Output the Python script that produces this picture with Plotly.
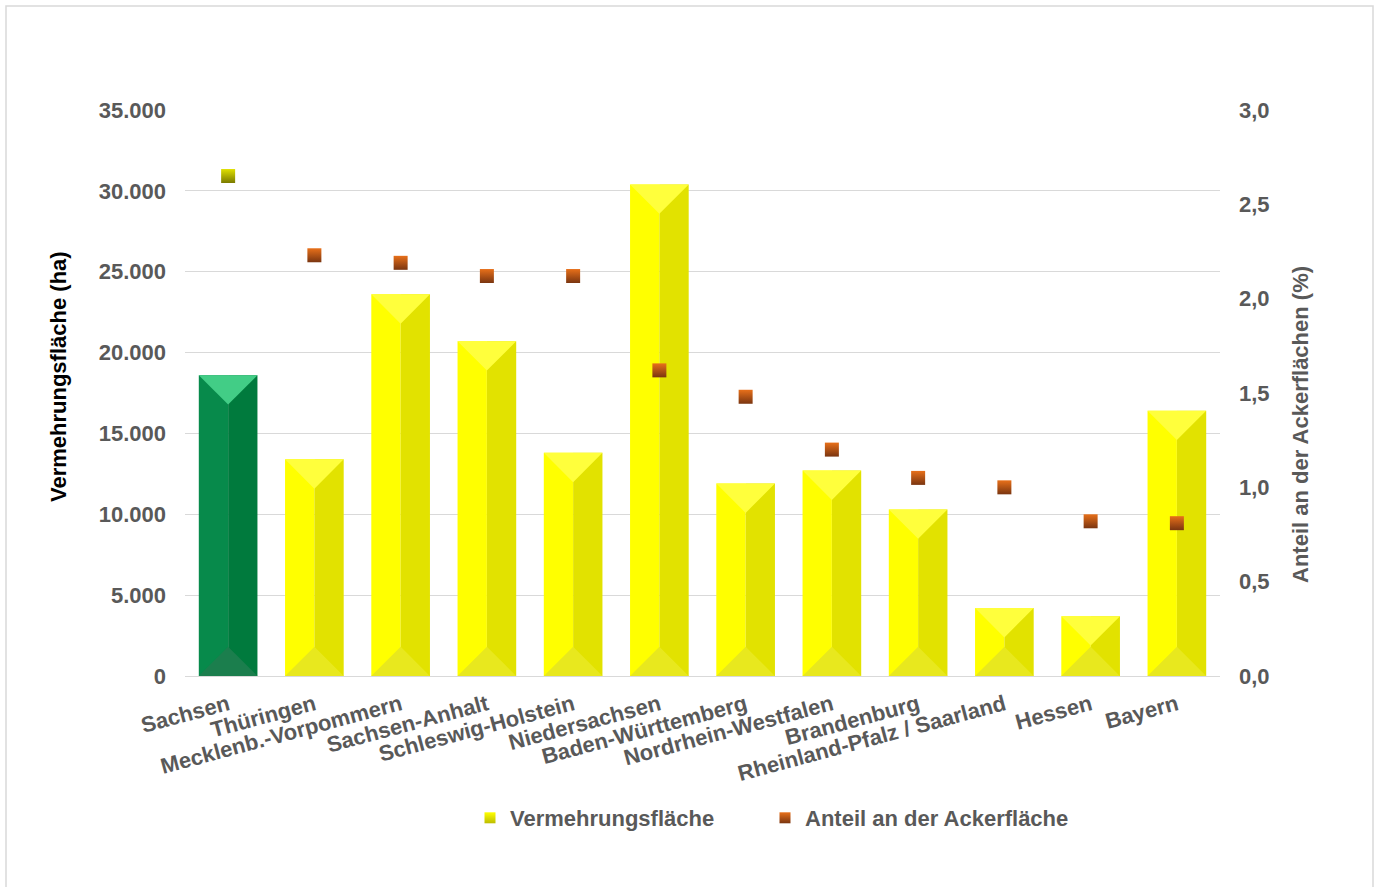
import plotly.graph_objects as go

# ---------------- data ----------------
laender = ["Sachsen", "Thüringen", "Mecklenb.-Vorpommern", "Sachsen-Anhalt",
           "Schleswig-Holstein", "Niedersachsen", "Baden-Württemberg",
           "Nordrhein-Westfalen", "Brandenburg", "Rheinland-Pfalz / Saarland",
           "Hessen", "Bayern"]
flaeche_ha = [18600, 13400, 23600, 20700, 13800, 30400, 11900, 12700, 10300, 4200, 3700, 16400]
anteil_pct = [2.65, 2.23, 2.19, 2.12, 2.12, 1.62, 1.48, 1.20, 1.05, 1.00, 0.82, 0.81]
left_ticks = [0, 5000, 10000, 15000, 20000, 25000, 30000, 35000]
right_ticks = [0, 0.5, 1.0, 1.5, 2.0, 2.5, 3.0]

# ---------------- layout constants ----------------
W, H = 1379, 887
ML, MR, MT, MB = 185, 159, 110, 211
PW, PH = W - ML - MR, H - MT - MB
YMAX, Y2MAX = 35000, 3.0
BARW = 0.68
HALF = BARW / 2
n = len(laender)
xs = list(range(n))
slot_px = PW / n
depth = HALF * slot_px * (YMAX / PH)   # 45 degree bevel in data units

FONT = "Liberation Sans, Arial, sans-serif"
GRAY = "#595959"

def px_x(p):
    return (p - ML) / PW

def px_y(p):
    return (MT + PH - p) / PH

hl = ["sachsen" if i == 0 else "std" for i in range(n)]
col_left = ["#078A4B" if h == "sachsen" else "#FFFF00" for h in hl]
col_right = ["#007A3D" if h == "sachsen" else "#E2E200" for h in hl]

fig = go.Figure()

# bar halves
fig.add_trace(go.Bar(x=xs, y=flaeche_ha, width=HALF, offset=-HALF,
                     marker=dict(color=col_left, line=dict(width=0)),
                     showlegend=False, hoverinfo="skip"))
fig.add_trace(go.Bar(x=xs, y=flaeche_ha, width=HALF, offset=0,
                     marker=dict(color=col_right, line=dict(width=0)),
                     showlegend=False, hoverinfo="skip"))

# bevel triangles
def tri_trace(indices, top, color):
    px, py = [], []
    for i in indices:
        v = flaeche_ha[i]
        if top:
            px += [i - HALF, i + HALF, i, i - HALF, None]
            py += [v, v, v - depth, v, None]
        else:
            px += [i - HALF, i + HALF, i, i - HALF, None]
            py += [0, 0, depth, 0, None]
    return go.Scatter(x=px, y=py, mode="lines", fill="toself", fillcolor=color,
                      line=dict(width=0, color=color), showlegend=False,
                      hoverinfo="skip")

green_idx = [i for i in range(n) if hl[i] == "sachsen"]
yel_idx = [i for i in range(n) if hl[i] != "sachsen"]
fig.add_trace(tri_trace(green_idx, True, "#42CD86"))
fig.add_trace(tri_trace(green_idx, False, "#1B7E4D"))
fig.add_trace(tri_trace(yel_idx, True, "#FFFF3C"))
fig.add_trace(tri_trace(yel_idx, False, "#E8E81E"))

# markers (share of arable land)
mk_col = ["#E0E000" if h == "sachsen" else "#E8701A" for h in hl]
mk_grad = ["#7A7A00" if h == "sachsen" else "#7A3510" for h in hl]
fig.add_trace(go.Scatter(x=xs, y=anteil_pct, yaxis="y2", mode="markers",
                         marker=dict(symbol="square", size=14, color=mk_col,
                                     gradient=dict(type="vertical", color=mk_grad),
                                     line=dict(width=0)),
                         showlegend=False, hoverinfo="skip"))

# legend entries (two separately placed legends)
fig.add_trace(go.Scatter(x=[None], y=[None], mode="markers", name="Vermehrungsfläche",
                         legend="legend",
                         marker=dict(symbol="square", size=11, color="#FFFF00",
                                     gradient=dict(type="vertical", color="#BDBD00"))))
fig.add_trace(go.Scatter(x=[None], y=[None], mode="markers", name="Anteil an der Ackerfläche",
                         yaxis="y2", legend="legend2",
                         marker=dict(symbol="square", size=11, color="#E8701A",
                                     gradient=dict(type="vertical", color="#7A3510"))))

legend_font = dict(family=FONT, size=22, color=GRAY, weight="bold")
tick_font = dict(family=FONT, size=22, color=GRAY, weight="bold")

fig.update_layout(
    width=W, height=H,
    margin=dict(l=ML, r=MR, t=MT, b=MB, pad=0),
    paper_bgcolor="white", plot_bgcolor="white",
    separators=",.",
    barmode="overlay",
    font=dict(family=FONT, size=22, color=GRAY, weight="bold"),
    xaxis=dict(range=[-0.5, n - 0.5], tickmode="array", tickvals=xs, ticktext=laender,
               tickangle=-15, showgrid=False, zeroline=False, showline=False,
               ticks="", ticklabelstandoff=11, tickfont=tick_font),
    yaxis=dict(range=[0, YMAX], tickmode="array", tickvals=left_ticks, tickformat=",.0f",
               showgrid=True, gridcolor="#D9D9D9", gridwidth=1.3,
               zeroline=True, zerolinecolor="#D9D9D9", zerolinewidth=1.3,
               showline=False, ticks="", ticklabelstandoff=18, tickfont=tick_font),
    yaxis2=dict(range=[0, Y2MAX], overlaying="y", side="right", tickmode="array",
                tickvals=right_ticks, tickformat=".1f", showgrid=False, zeroline=False,
                showline=False, ticks="", ticklabelstandoff=18, tickfont=tick_font),
    legend=dict(orientation="h", x=px_x(470), xanchor="left",
                y=px_y(818), yanchor="middle", font=legend_font,
                itemwidth=30, bgcolor="rgba(0,0,0,0)"),
    legend2=dict(orientation="h", x=px_x(765), xanchor="left",
                 y=px_y(818), yanchor="middle", font=legend_font,
                 itemwidth=30, bgcolor="rgba(0,0,0,0)"),
    annotations=[
        dict(text="Vermehrungsfläche (ha)", xref="paper", yref="paper",
             x=px_x(58), y=px_y(377), xanchor="center", yanchor="middle",
             textangle=-90, showarrow=False,
             font=dict(family=FONT, size=22, color="black", weight="bold")),
        dict(text="Anteil an der Ackerflächen (%)", xref="paper", yref="paper",
             x=px_x(1300), y=px_y(425), xanchor="center", yanchor="middle",
             textangle=-90, showarrow=False,
             font=dict(family=FONT, size=22, color=GRAY, weight="bold")),
    ],
    shapes=[dict(type="rect", xref="paper", yref="paper",
                 x0=px_x(6), x1=px_x(1373),
                 y0=px_y(H + 20), y1=px_y(6),
                 line=dict(color="#D9D9D9", width=1.5), layer="below")],
)

fig.write_html("out.html")
